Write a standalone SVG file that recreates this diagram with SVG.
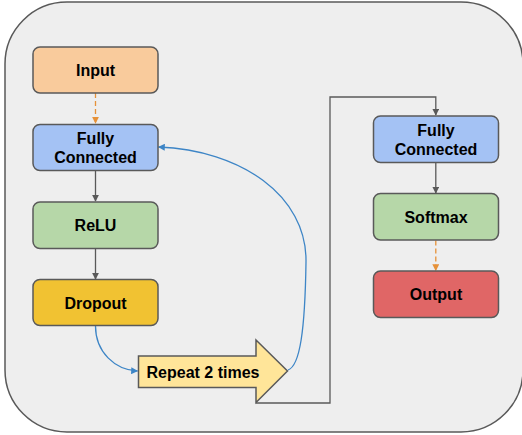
<svg xmlns="http://www.w3.org/2000/svg" width="522" height="435" viewBox="0 0 522 435">
  <defs>
    <marker id="ahGray" viewBox="0 0 10 10" refX="9" refY="5" markerWidth="7" markerHeight="7" markerUnits="userSpaceOnUse" orient="auto">
      <path d="M0,0 L10,5 L0,10 z" fill="#595959"/>
    </marker>
    <marker id="ahOrange" viewBox="0 0 10 10" refX="9" refY="5" markerWidth="7" markerHeight="7" markerUnits="userSpaceOnUse" orient="auto">
      <path d="M0,0 L10,5 L0,10 z" fill="#e69138"/>
    </marker>
    <marker id="ahBlue" viewBox="0 0 10 10" refX="9" refY="5" markerWidth="7" markerHeight="7" markerUnits="userSpaceOnUse" orient="auto">
      <path d="M0,0 L10,5 L0,10 z" fill="#3d85c6"/>
    </marker>
  </defs>
  <style>
    .box { stroke: #595959; stroke-width: 1.5; }
    .lbl { font-family: "Liberation Sans", Arial, sans-serif; font-weight: bold; font-size: 16px; fill: #000; text-anchor: middle; }
    .solid { fill: none; stroke: #595959; stroke-width: 1.3; }
    .dash { fill: none; stroke: #e69138; stroke-width: 1.3; stroke-dasharray: 5 3; }
    .loop { fill: none; stroke: #3d85c6; stroke-width: 1.3; }
  </style>

  <!-- outer frame -->
  <rect x="5" y="2" width="518" height="430" rx="62" ry="62" fill="#eeeeee" stroke="#595959" stroke-width="1.5"/>

  <!-- connectors -->
  <g id="connectors">
    <path class="dash" d="M95.5,93 L95.5,123" marker-end="url(#ahOrange)"/>
    <path class="solid" d="M95.5,170.5 L95.5,201" marker-end="url(#ahGray)"/>
    <path class="solid" d="M95.5,248.5 L95.5,279" marker-end="url(#ahGray)"/>
    <path class="loop" d="M95.5,326 C95.5,352 115,370 137.5,371" marker-end="url(#ahBlue)"/>
    <path class="loop" d="M288,370 C300,366 305,330 306,262 C307,195 240,150 158.5,147" marker-end="url(#ahBlue)"/>
    <path class="solid" d="M256,403 L330,403 L330,97 L435.8,97 L435.8,115" marker-end="url(#ahGray)"/>
    <path class="solid" d="M435.8,162.5 L435.8,193" marker-end="url(#ahGray)"/>
    <path class="dash" d="M435.8,240.5 L435.8,270.5" marker-end="url(#ahOrange)"/>
  </g>

  <g id="input">
    <rect class="box" x="33" y="47" width="125" height="46" rx="7" fill="#f9cb9c"/>
    <text class="lbl" x="95.5" y="76">Input</text>
  </g>
  <g id="fc1">
    <rect class="box" x="33" y="124.5" width="125" height="46" rx="7" fill="#a4c2f4"/>
    <text class="lbl" x="95.5" y="144">Fully</text>
    <text class="lbl" x="95.5" y="162.5">Connected</text>
  </g>
  <g id="relu">
    <rect class="box" x="33" y="202" width="125" height="46.5" rx="7" fill="#b6d7a8"/>
    <text class="lbl" x="95.5" y="231">ReLU</text>
  </g>
  <g id="dropout">
    <rect class="box" x="33" y="279.5" width="125" height="46" rx="7" fill="#f1c232"/>
    <text class="lbl" x="95.5" y="308.5">Dropout</text>
  </g>
  <g id="repeat">
    <path class="box" d="M138.5,356 L256,356 L256,340 L287.5,371 L256,402.5 L256,387.5 L138.5,387.5 Z" fill="#ffe599"/>
    <text class="lbl" x="146.5" y="378" style="text-anchor:start">Repeat 2 times</text>
  </g>
  <g id="fc2">
    <rect class="box" x="373.5" y="116" width="125" height="46.5" rx="7" fill="#a4c2f4"/>
    <text class="lbl" x="436" y="135.5">Fully</text>
    <text class="lbl" x="436" y="154.5">Connected</text>
  </g>
  <g id="softmax">
    <rect class="box" x="373.5" y="193.5" width="125" height="46.5" rx="7" fill="#b6d7a8"/>
    <text class="lbl" x="436" y="223">Softmax</text>
  </g>
  <g id="output">
    <rect class="box" x="373.5" y="271" width="125" height="46.5" rx="7" fill="#e06666"/>
    <text class="lbl" x="436" y="300">Output</text>
  </g>
</svg>
